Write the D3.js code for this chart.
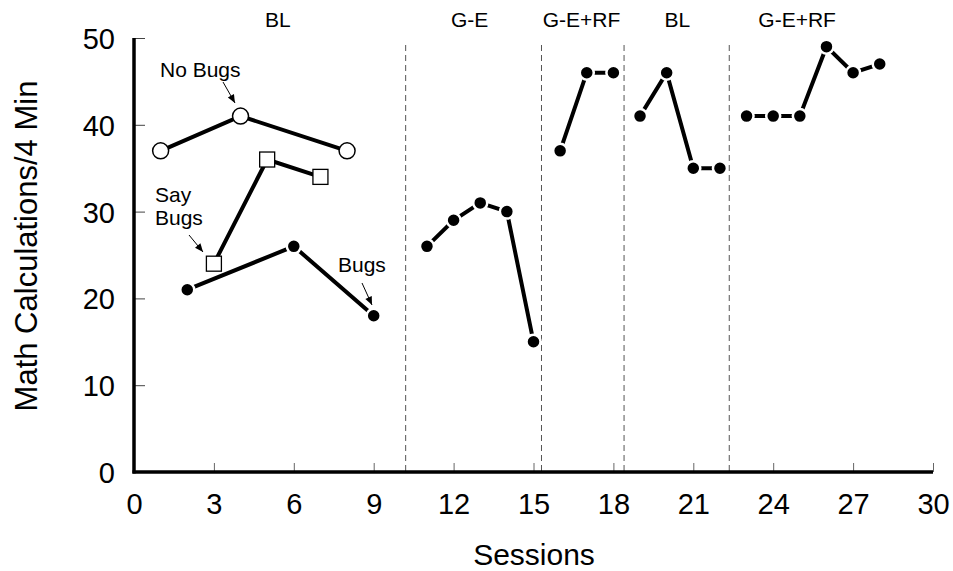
<!DOCTYPE html>
<html>
<head>
<meta charset="utf-8">
<script src="https://cdn.jsdelivr.net/npm/d3@7"></script>
<style>
  body { margin: 0; background: #fff; }
  svg { display: block; font-family: Arial, "Liberation Sans", sans-serif; }
</style>
</head>
<body>
<svg id="viewport" width="953" height="571"></svg>
<script>
// data
var xTicks = [0, 3, 6, 9, 12, 15, 18, 21, 24, 27, 30];
var yTicks = [0, 10, 20, 30, 40, 50];

var phaseNames = ["BL", "G-E", "G-E+RF", "BL", "G-E+RF"];
var phaseLines = [10.2, 15.3, 18.4, 22.35];
var phaseMid = [5.4, 12.6, 16.8, 20.4, 24.9];

var noBugsX = [1, 4, 8];
var noBugsY = [37, 41, 37];
var sayBugsX = [3, 5, 7];
var sayBugsY = [24, 36, 34];
var bugsX = [2, 6, 9, 11, 12, 13, 14, 15, 16, 17, 18, 19, 20, 21, 22, 23, 24, 25, 26, 27, 28];
var bugsY = [21, 26, 18, 26, 29, 31, 30, 15, 37, 46, 46, 41, 46, 35, 35, 41, 41, 41, 49, 46, 47];

var svg = d3.select("#viewport");
var x = d3.scaleLinear().domain([0, 30]).range([134, 933]);
var y = d3.scaleLinear().domain([0, 50]).range([472, 38]);
var font = "Arial, 'Liberation Sans', sans-serif";

// -- phase change lines
svg.selectAll(".phase").data(phaseLines).enter().append("line")
	.attr("x1", function(d) { return x(d); })
	.attr("x2", function(d) { return x(d); })
	.attr("y1", 45).attr("y2", 471)
	.attr("stroke", "#555").attr("stroke-width", 1)
	.attr("stroke-dasharray", "6,4");

svg.selectAll(".phaseName").data(phaseNames).enter().append("text")
	.attr("x", function(d, i) { return x(phaseMid[i]); })
	.attr("y", 27)
	.attr("text-anchor", "middle")
	.attr("font-size", 21)
	.text(function(d) { return d; });

// -- axes
var xAxis = d3.axisBottom(x).tickValues(xTicks).tickSize(-9).tickPadding(14);
var gx = svg.append("g").attr("transform", "translate(0,472)").call(xAxis);
gx.select(".domain").remove();
gx.selectAll(".tick line").attr("stroke", "#666");
gx.selectAll(".tick text").attr("font-size", 29).attr("font-family", font).attr("fill", "#000")
	.attr("dy", null).attr("y", 42);

var yAxis = d3.axisLeft(y).tickValues(yTicks).tickSize(-11).tickPadding(19);
var gy = svg.append("g").attr("transform", "translate(134,0)").call(yAxis);
gy.select(".domain").remove();
gy.selectAll(".tick line").attr("stroke", "#444");
gy.selectAll(".tick text").attr("font-size", 29).attr("font-family", font).attr("fill", "#000")
	.attr("dy", "0.36em");

svg.append("line").attr("x1", 134).attr("x2", 134).attr("y1", y(50)).attr("y2", 473.5)
	.attr("stroke", "#000").attr("stroke-width", 3.5);
svg.append("line").attr("x1", 132.5).attr("x2", 933).attr("y1", 472).attr("y2", 472)
	.attr("stroke", "#000").attr("stroke-width", 3.5);

svg.append("text").attr("x", 534).attr("y", 565).attr("text-anchor", "middle")
	.attr("font-size", 30).text("Sessions");
svg.append("text").attr("transform", "translate(37,246) rotate(-90)")
	.attr("text-anchor", "middle").attr("font-size", 31).text("Math Calculations/4 Min");

// -- series
var line = d3.line().x(function(d) { return x(d[0]); }).y(function(d) { return y(d[1]); });

function phaseOf(s) {
	var p = 0;
	phaseLines.forEach(function(b) { if (s > b) p++; });
	return p;
}

var bugsPts = bugsX.map(function(s, i) { return [s, bugsY[i]]; });
var groups = d3.groups(bugsPts, function(d) { return phaseOf(d[0]); });
groups.forEach(function(g) {
	svg.append("path").attr("d", line(g[1])).attr("fill", "none")
		.attr("stroke", "#000").attr("stroke-width", 4);
});
var noBugsPts = noBugsX.map(function(s, i) { return [s, noBugsY[i]]; });
var sayBugsPts = sayBugsX.map(function(s, i) { return [s, sayBugsY[i]]; });
svg.append("path").attr("d", line(noBugsPts)).attr("fill", "none").attr("stroke", "#000").attr("stroke-width", 4);
svg.append("path").attr("d", line(sayBugsPts)).attr("fill", "none").attr("stroke", "#000").attr("stroke-width", 4);

// markers with a white halo so the line stops short
svg.selectAll(".bug").data(bugsPts).enter().append("circle")
	.attr("cx", function(d) { return x(d[0]); })
	.attr("cy", function(d) { return y(d[1]); })
	.attr("r", 7).attr("fill", "#000").attr("stroke", "#fff").attr("stroke-width", 2.5);

svg.selectAll(".nobug").data(noBugsPts).enter().append("circle")
	.attr("cx", function(d) { return x(d[0]); })
	.attr("cy", function(d) { return y(d[1]); })
	.attr("r", 8).attr("fill", "#fff").attr("stroke", "#000").attr("stroke-width", 1.5);

svg.selectAll(".saybug").data(sayBugsPts).enter().append("rect")
	.attr("x", function(d) { return x(d[0]) - 7.5; })
	.attr("y", function(d) { return y(d[1]) - 7.5; })
	.attr("width", 15).attr("height", 15)
	.attr("fill", "#fff").attr("stroke", "#000").attr("stroke-width", 1.3);

// -- annotations
function note(lines, tx, ty, ax1, ay1, ax2, ay2) {
	var t = svg.append("text").attr("font-size", 21).attr("x", tx).attr("y", ty);
	lines.forEach(function(l, i) {
		t.append("tspan").attr("x", tx).attr("dy", i === 0 ? 0 : 23).text(l);
	});
	svg.append("line").attr("x1", ax1).attr("y1", ay1).attr("x2", ax2).attr("y2", ay2)
		.attr("stroke", "#000").attr("stroke-width", 1);
	var ang = Math.atan2(ay2 - ay1, ax2 - ax1);
	var h = 9, w = 0.4;
	var p = [[ax2, ay2],
		[ax2 - h * Math.cos(ang - w), ay2 - h * Math.sin(ang - w)],
		[ax2 - h * Math.cos(ang + w), ay2 - h * Math.sin(ang + w)]];
	svg.append("path").attr("d", "M" + p.join("L") + "Z").attr("fill", "#000");
}
note(["No Bugs"], 160, 77, 223, 82, 235, 103);
note(["Say", "Bugs"], 155, 202, 189, 235, 203, 252);
note(["Bugs"], 338, 272, 362, 283, 372, 305);
</script>
</body>
</html>
